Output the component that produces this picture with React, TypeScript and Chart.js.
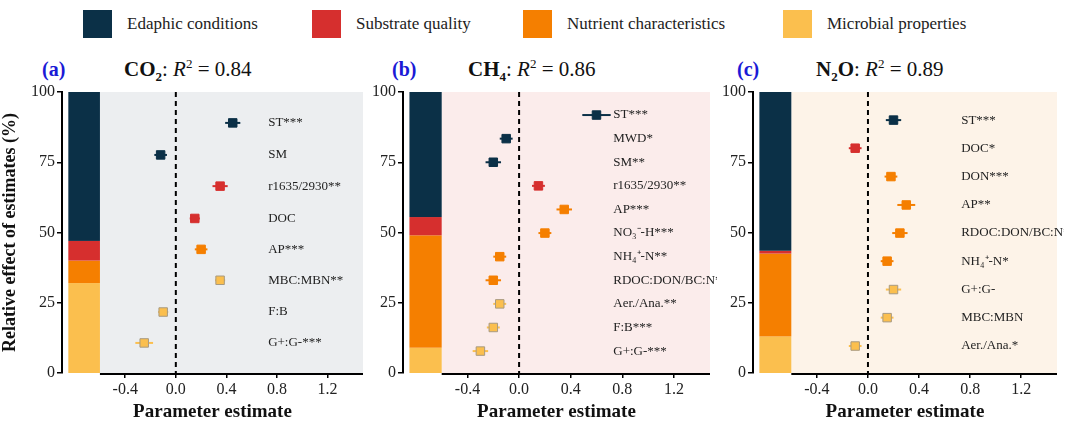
import React, { useEffect, useRef } from "react";
import { Chart, registerables } from "chart.js";
Chart.register(...registerables);

const COLORS = ["#0b3047", "#d62f2e", "#f57f00", "#fbbf4e"];
const LEGEND = ["Edaphic conditions", "Substrate quality", "Nutrient characteristics", "Microbial properties"];
const X_TICKS = [-0.4, 0, 0.4, 0.8, 1.2];

// panel a
const A_LABELS = ["ST***", "SM", "r1635/2930**", "DOC", "AP***", "MBC:MBN**", "F:B", "G+:G-***"];
const A_Y = [89, 77.6, 66.5, 55, 44, 33, 21.7, 10.7];
const A_X = [0.45, -0.12, 0.35, 0.15, 0.2, 0.35, -0.1, -0.25];
const A_ERR = [0.06, 0.05, 0.06, 0.04, 0.05, 0.04, 0.04, 0.07];
const A_GROUP = [0, 0, 1, 1, 2, 3, 3, 3];
const A_STACK = [32, 8, 7, 53]; // microbial, nutrient, substrate, edaphic (bottom->top)

// panel b
const B_LABELS = ["ST***", "MWD*", "SM**", "r1635/2930**", "AP***", "NO\u2083\u207B-H***", "NH\u2084\u207A-N**", "RDOC:DON/BC:N**", "Aer./Ana.**", "F:B***", "G+:G-***"];
const B_Y = [91.8, 83.4, 75, 66.6, 58.2, 49.8, 41.4, 33, 24.6, 16.2, 7.8];
const B_X = [0.6, -0.1, -0.2, 0.15, 0.35, 0.2, -0.15, -0.2, -0.15, -0.2, -0.3];
const B_ERR = [0.11, 0.05, 0.06, 0.05, 0.06, 0.05, 0.05, 0.06, 0.05, 0.05, 0.06];
const B_GROUP = [0, 0, 0, 1, 2, 2, 2, 2, 3, 3, 3];
const B_STACK = [9, 40, 6.5, 44.5];

// panel c
const C_LABELS = ["ST***", "DOC*", "DON***", "AP**", "RDOC:DON/BC:N**", "NH\u2084\u207A-N*", "G+:G-", "MBC:MBN", "Aer./Ana.*"];
const C_Y = [90, 80, 69.9, 59.8, 49.8, 39.8, 29.7, 19.7, 9.6];
const C_X = [0.2, -0.1, 0.18, 0.3, 0.25, 0.15, 0.2, 0.15, -0.1];
const C_ERR = [0.06, 0.05, 0.05, 0.07, 0.06, 0.05, 0.06, 0.05, 0.05];
const C_GROUP = [0, 1, 2, 2, 2, 2, 3, 3, 3];
const C_STACK = [13, 29.5, 1, 56.5];

const X_MIN = -0.9, X_MAX = 1.48, BAR_L = -0.85, BAR_R = -0.6, LABEL_X = 0.73;

interface PanelProps {
  left: number; width: number; yAxisW: number; bg: string; showYTitle: boolean;
  labels: string[]; ys: number[]; xs: number[]; errs: number[]; groups: number[]; stack: number[];
}

function Panel(p: PanelProps) {
  const ref = useRef<HTMLCanvasElement>(null);
  useEffect(() => {
    const deco = {
      id: "deco",
      beforeDatasetsDraw(chart: any) {
        const { ctx, scales: { x, y } } = chart;
        ctx.save();
        ctx.fillStyle = p.bg;
        ctx.fillRect(x.getPixelForValue(BAR_R), y.getPixelForValue(100), x.getPixelForValue(X_MAX) - x.getPixelForValue(BAR_R), y.getPixelForValue(0) - y.getPixelForValue(100));
        // stacked bar bottom->top: microbial, nutrient, substrate, edaphic
        const order = [3, 2, 1, 0];
        let base = 0;
        p.stack.forEach((v, i) => {
          const y0 = y.getPixelForValue(base), y1 = y.getPixelForValue(base + v);
          ctx.fillStyle = COLORS[order[i]];
          ctx.fillRect(x.getPixelForValue(BAR_L), y1, x.getPixelForValue(BAR_R) - x.getPixelForValue(BAR_L), y0 - y1);
          base += v;
        });
        // x axis line
        ctx.strokeStyle = "#000"; ctx.lineWidth = 2;
        ctx.beginPath();
        ctx.moveTo(x.getPixelForValue(BAR_R), y.getPixelForValue(0) + 1);
        ctx.lineTo(x.getPixelForValue(X_MAX), y.getPixelForValue(0) + 1);
        ctx.stroke();
        // dashed zero line
        ctx.setLineDash([5, 4]);
        ctx.beginPath();
        ctx.moveTo(x.getPixelForValue(0), y.getPixelForValue(100));
        ctx.lineTo(x.getPixelForValue(0), y.getPixelForValue(0));
        ctx.stroke();
        ctx.setLineDash([]);
        // error bars
        p.xs.forEach((v, i) => {
          ctx.strokeStyle = COLORS[p.groups[i]]; ctx.lineWidth = 2;
          const py = y.getPixelForValue(p.ys[i]);
          ctx.beginPath();
          ctx.moveTo(x.getPixelForValue(v - p.errs[i]), py);
          ctx.lineTo(x.getPixelForValue(v + p.errs[i]), py);
          ctx.stroke();
        });
        // labels
        ctx.fillStyle = "#222"; ctx.font = "13px 'Liberation Serif', serif"; ctx.textBaseline = "middle";
        p.labels.forEach((l, i) => ctx.fillText(l, x.getPixelForValue(LABEL_X), y.getPixelForValue(p.ys[i])));
        ctx.restore();
      },
    };
    const chart = new Chart(ref.current!, {
      type: "scatter",
      data: {
        datasets: [{
          data: p.xs.map((v, i) => ({ x: v, y: p.ys[i] })),
          pointStyle: "rect",
          pointRadius: 6,
          backgroundColor: p.groups.map((g) => COLORS[g]),
          borderColor: p.groups.map((g) => (g === 3 ? "#a89a80" : COLORS[g])),
          borderWidth: 1,
        }],
      },
      options: {
        animation: false, responsive: false,
        layout: { padding: { top: 12, right: 2, left: 0, bottom: 0 } },
        plugins: { legend: { display: false }, tooltip: { enabled: false } },
        scales: {
          x: {
            type: "linear", min: X_MIN, max: X_MAX,
            afterBuildTicks: (s: any) => { s.ticks = X_TICKS.map((v) => ({ value: v })); },
            afterFit: (s: any) => { s.height = 50; },
            border: { display: false },
            grid: { drawOnChartArea: false, color: "#000", tickLength: 5, lineWidth: 1.5 },
            ticks: { color: "#222", font: { family: "'Liberation Serif', serif", size: 16 }, padding: 2, callback: (v: any) => Number(v).toFixed(1) },
            title: { display: true, text: "Parameter estimate", color: "#111", font: { family: "'Liberation Serif', serif", size: 19, weight: "bold" }, padding: { top: 0, bottom: 0 } },
          },
          y: {
            type: "linear", min: 0, max: 100,
            afterBuildTicks: (s: any) => { s.ticks = [0, 25, 50, 75, 100].map((v) => ({ value: v })); },
            afterFit: (s: any) => { s.width = p.yAxisW; },
            border: { display: true, color: "#000", width: 2 },
            grid: { drawOnChartArea: false, color: "#000", tickLength: 5, lineWidth: 1.5 },
            ticks: { color: "#222", font: { family: "'Liberation Serif', serif", size: 16 }, padding: 2 },
            title: { display: p.showYTitle, text: "Relative effect of estimates (%)", color: "#111", font: { family: "'Liberation Serif', serif", size: 18, weight: "bold" }, padding: 0 },
          },
        },
      },
      plugins: [deco],
    } as any);
    return () => chart.destroy();
  }, []);
  return <canvas ref={ref} width={p.width} height={343} style={{ position: "absolute", left: p.left, top: 80, width: p.width, height: 343 }} />;
}

const LEG_X = [83, 312, 523, 783];
const TITLES: [number, string, number, React.ReactNode, string][] = [
  [42, "(a)", 124, <>CO<sub style={{ fontSize: 13 }}>2</sub></>, "0.84"],
  [392, "(b)", 468, <>CH<sub style={{ fontSize: 13 }}>4</sub></>, "0.86"],
  [737, "(c)", 816, <>N<sub style={{ fontSize: 13 }}>2</sub>O</>, "0.89"],
];

export default function App() {
  useEffect(() => { document.body.style.margin = "0"; }, []);
  const serif = "'Liberation Serif', serif";
  return (
    <div style={{ position: "relative", width: 1080, height: 423, background: "#fff", fontFamily: serif, overflow: "hidden" }}>
      {LEGEND.map((l, i) => (
        <div key={l} style={{ position: "absolute", left: LEG_X[i], top: 10, display: "flex", alignItems: "center" }}>
          <div style={{ width: 29, height: 28, background: COLORS[i] }} />
          <span style={{ marginLeft: 15, fontSize: 17, color: "#222" }}>{l}</span>
        </div>
      ))}
      {TITLES.map(([lx, lab, tx, gas, r2]) => (
        <React.Fragment key={lab}>
          <div style={{ position: "absolute", left: lx, top: 58, fontSize: 20, fontWeight: "bold", color: "#1a1ad6" }}>{lab}</div>
          <div style={{ position: "absolute", left: tx, top: 56, fontSize: 21, color: "#111", whiteSpace: "nowrap" }}>
            <b>{gas}</b>: <i>R</i><sup style={{ fontSize: 13 }}>2</sup> = {r2}
          </div>
        </React.Fragment>
      ))}
      <Panel left={0} width={370} yAxisW={62} bg="#eceef0" showYTitle={true} labels={A_LABELS} ys={A_Y} xs={A_X} errs={A_ERR} groups={A_GROUP} stack={A_STACK} />
      <Panel left={340} width={377} yAxisW={63} bg="#fbeceb" showYTitle={false} labels={B_LABELS} ys={B_Y} xs={B_X} errs={B_ERR} groups={B_GROUP} stack={B_STACK} />
      <Panel left={690} width={374} yAxisW={63} bg="#fdf3e8" showYTitle={false} labels={C_LABELS} ys={C_Y} xs={C_X} errs={C_ERR} groups={C_GROUP} stack={C_STACK} />
    </div>
  );
}
